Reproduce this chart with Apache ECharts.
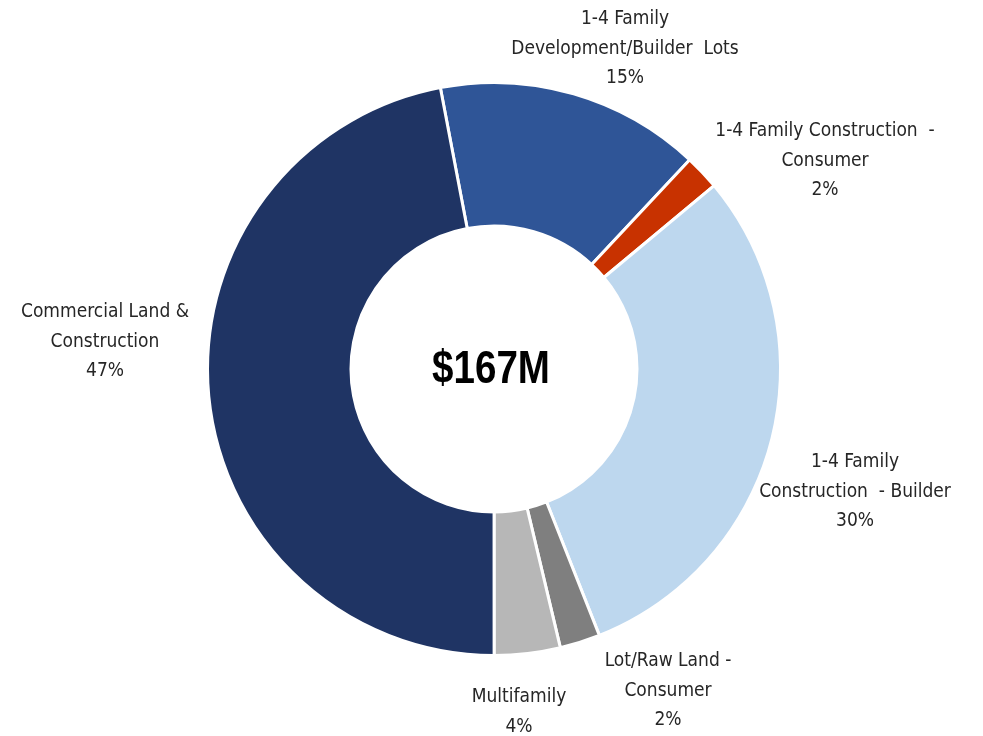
<!DOCTYPE html>
<html>
<head>
<meta charset="utf-8">
<script src="https://cdn.jsdelivr.net/npm/echarts@6/dist/echarts.min.js"></script>
<style>
html,body{margin:0;padding:0;background:#fff;}
#main{width:983px;height:736px;}
</style>
</head>
<body>
<div id="main"></div>
<script>
// Data ($M), clockwise starting just left of 12 o'clock
var categories = [
  "1-4 Family\nDevelopment/Builder  Lots",
  "1-4 Family Construction  -\nConsumer",
  "1-4 Family\nConstruction  - Builder",
  "Lot/Raw Land -\nConsumer",
  "Multifamily",
  "Commercial Land &\nConstruction"
];
var values = [25.0, 3.3, 50.2, 3.8, 6.2, 78.5];
var totalLabel = "$167M";

// styling (kept separate from data)
var colors = ["#2F5597", "#C83200", "#BDD7EE", "#7F7F7F", "#B7B7B7", "#1F3464"];
var labelPos = [[625, 49], [825, 161], [855, 492], [668, 691], [519, 712], [105, 342]];

var FONT = "'Liberation Sans Narrow', 'Arial Narrow', 'DejaVu Sans Condensed', sans-serif";

var chart = echarts.init(document.getElementById('main'), null, {renderer: 'canvas'});
var data = categories.map(function (c, i) {
  return {name: c, value: values[i], itemStyle: {color: colors[i]}};
});

chart.setOption({
  animation: false,
  backgroundColor: '#ffffff',
  series: [{
    type: 'pie',
    center: [494, 369],
    radius: [143, 286.5],
    startAngle: 100.8,
    clockwise: true,
    avoidLabelOverlap: false,
    itemStyle: {borderColor: '#ffffff', borderWidth: 3},
    label: {
      show: true,
      position: 'outside',
      formatter: function (p) { return p.name + "\n" + Math.round(p.percent) + "%"; },
      fontFamily: FONT,
      fontSize: 19,
      lineHeight: 29.5,
      color: '#262626',
      align: 'center'
    },
    labelLine: {show: false},
    labelLayout: function (params) {
      var pos = labelPos[params.dataIndex];
      return {x: pos[0], y: pos[1], align: 'center', verticalAlign: 'middle'};
    },
    emphasis: {disabled: true},
    data: data
  }],
  graphic: [{
    type: 'text',
    x: 491,
    y: 370,
    scaleX: 0.82,
    style: {
      text: totalLabel,
      fontFamily: "'Liberation Sans', Arial, sans-serif",
      fontWeight: 'bold',
      fontSize: 47,
      fill: '#000000',
      textAlign: 'center',
      textVerticalAlign: 'middle'
    }
  }]
});
</script>
</body>
</html>
